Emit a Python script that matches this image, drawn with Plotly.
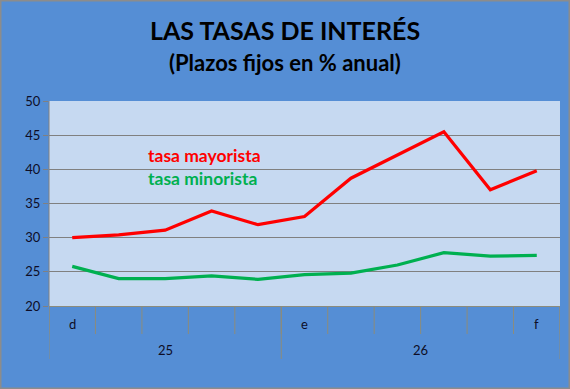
import plotly.graph_objects as go

# ---- data ----
month_labels = ["d", "", "", "", "", "e", "", "", "", "", "f"]
year_labels = ["25", "26"]
year_sizes = [5, 6]
mayorista = [30.0, 30.4, 31.1, 33.9, 31.9, 33.1, 38.7, 42.1, 45.5, 37.0, 39.8]
minorista = [25.8, 24.0, 24.0, 24.4, 23.9, 24.6, 24.8, 26.0, 27.8, 27.3, 27.4]
series_names = ["tasa mayorista", "tasa minorista"]

BG = "#558ED5"
PLOT_BG = "#C6D9F1"
GRID = "#808080"
DIV = "#8C8C7C"
RED = "#FF0000"
GREEN = "#00B050"
TXT = "#0D0D26"
FONT = "Lato"

x = list(range(len(month_labels)))

fig = go.Figure()
fig.add_trace(go.Scatter(x=x, y=mayorista, mode="lines", name=series_names[0],
                         line=dict(color=RED, width=3.2)))
fig.add_trace(go.Scatter(x=x, y=minorista, mode="lines", name=series_names[1],
                         line=dict(color=GREEN, width=3.2)))

W, H = 570, 389
L, R, T, B = 49, 10, 101, 83
plot_w = W - L - R
plot_h = H - T - B

shapes = []
# inner category dividers
for i in range(len(month_labels) + 1):
    shapes.append(dict(type="line", xref="x", yref="paper", ysizemode="pixel", yanchor=0,
                       x0=i - 0.5, x1=i - 0.5, y0=0, y1=-28,
                       line=dict(color=DIV, width=1)))
# group dividers
bounds = [0]
for s in year_sizes:
    bounds.append(bounds[-1] + s)
for b in bounds:
    shapes.append(dict(type="line", xref="x", yref="paper", ysizemode="pixel", yanchor=0,
                       x0=b - 0.5, x1=b - 0.5, y0=0, y1=-53,
                       line=dict(color=DIV, width=1)))
# outer frame
shapes.append(dict(type="rect", xref="paper", yref="paper", xsizemode="pixel", ysizemode="pixel",
                   xanchor=0, yanchor=0, x0=-L + 0.75, x1=W - L - 0.75, y0=-B + 0.75, y1=H - B - 0.75,
                   line=dict(color="#8C8C8C", width=1.5), fillcolor="rgba(0,0,0,0)", layer="above"))
# plot area left edge
shapes.append(dict(type="line", xref="paper", yref="paper", x0=0, x1=0, y0=0, y1=1,
                   line=dict(color=GRID, width=1)))

annotations = []
for i, lab in enumerate(month_labels):
    if lab:
        annotations.append(dict(x=i, y=0, xref="x", yref="paper", yanchor="middle", yshift=-18,
                                text=lab, showarrow=False,
                                font=dict(family=FONT, size=13, color=TXT)))
for k, lab in enumerate(year_labels):
    cx = (bounds[k] + bounds[k + 1] - 1) / 2
    annotations.append(dict(x=cx, y=0, xref="x", yref="paper", yanchor="middle", yshift=-44,
                            text=lab, showarrow=False,
                            font=dict(family=FONT, size=13, color=TXT)))
# series labels
annotations.append(dict(x=(146 - L) / plot_w, y=(H - B - 155) / plot_h, xref="paper", yref="paper",
                        xanchor="left", yanchor="middle", text="<b>" + series_names[0] + "</b>",
                        showarrow=False, font=dict(family=FONT, size=17.5, color=RED)))
annotations.append(dict(x=(146 - L) / plot_w, y=(H - B - 178) / plot_h, xref="paper", yref="paper",
                        xanchor="left", yanchor="middle", text="<b>" + series_names[1] + "</b>",
                        showarrow=False, font=dict(family=FONT, size=17.5, color=GREEN)))
# titles
annotations.append(dict(x=(285 - L) / plot_w, y=(H - B - 30) / plot_h, xref="paper", yref="paper",
                        xanchor="center", yanchor="middle", text="<b>LAS TASAS DE INTERÉS</b>",
                        showarrow=False, font=dict(family=FONT, size=25, color="black")))
annotations.append(dict(x=(285 - L) / plot_w, y=(H - B - 62) / plot_h, xref="paper", yref="paper",
                        xanchor="center", yanchor="middle", text="<b>(Plazos fijos en % anual)</b>",
                        showarrow=False, font=dict(family=FONT, size=22, color="black")))

fig.update_layout(
    width=W, height=H,
    margin=dict(l=L, r=R, t=T, b=B, pad=0),
    paper_bgcolor=BG, plot_bgcolor=PLOT_BG,
    showlegend=False,
    shapes=shapes, annotations=annotations,
    xaxis=dict(range=[-0.5, len(month_labels) - 0.5], showgrid=False, zeroline=False,
               showticklabels=False, ticks="", showline=True, linecolor=DIV, linewidth=1,
               fixedrange=True),
    yaxis=dict(range=[20, 50], dtick=5, showgrid=True, gridcolor=GRID, gridwidth=1,
               zeroline=False, ticks="outside", ticklen=5, tickcolor=GRID,
               tickfont=dict(family=FONT, size=13, color=TXT), showline=False, fixedrange=True),
)

fig.write_html("out.html")
